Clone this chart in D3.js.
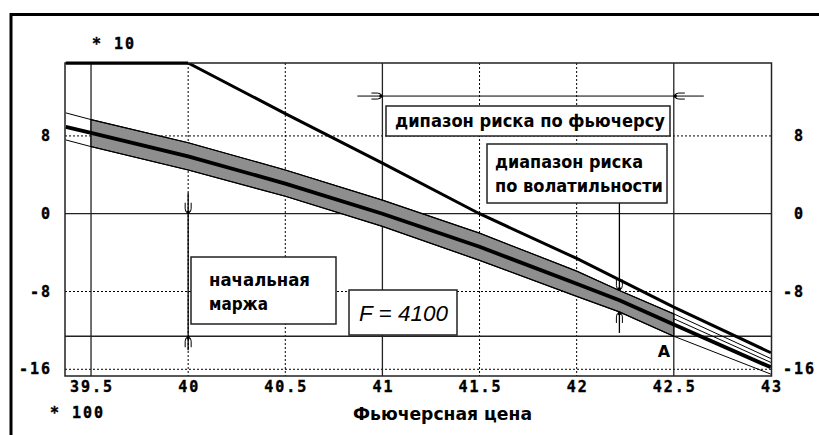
<!DOCTYPE html>
<html>
<head>
<meta charset="utf-8">
<script src="https://cdn.jsdelivr.net/npm/d3@7/dist/d3.min.js"></script>
<style>
  html, body { margin: 0; padding: 0; background: #fff; }
  svg { display: block; }
  .tick-label { font-family: "DejaVu Sans Mono", monospace; font-weight: bold; font-size: 15px; letter-spacing: 2px; fill: #000; stroke: #000; stroke-width: 0.4px; }
  .box-label { font-family: "DejaVu Sans", sans-serif; font-weight: bold; font-size: 17px; fill: #000; }
</style>
</head>
<body>
<svg id="chart" width="819" height="435"></svg>
<script>
// ---- data -------------------------------------------------------------
// futures price, in hundreds
const xTicks = [39.5, 40, 40.5, 41, 41.5, 42, 42.5, 43];
const xTickLabels = ["39.5", "40", "40.5", "41", "41.5", "42", "42.5", "43"];
const xSolidGrid = [39.5, 41, 42.5];
const xDottedGrid = [40, 40.5, 41.5, 42];
// profit, in tens
const yTicks = [8, 0, -8, -16];
const yTickLabels = ["8", "0", "-8", "-16"];
const ySolidGrid = [0];
const yDottedGrid = [8, -8, -16];

// position value at expiration
const payoffPrice = [39.37, 40, 40.5, 41, 41.5, 42, 42.5, 43];
const payoffValue = [15.5, 15.5, 10.3, 5.2, 0, -4.6, -9.6, -14.3];

// current position value and its volatility range
const curvePrice = [39.37, 39.5, 40, 40.5, 41, 41.5, 42, 42.22, 42.5, 43];
const curveMid   = [8.93, 8.31, 5.9, 3.1, 0, -3.4, -7.2, -8.9, -11.4, -15.8];
const curveUpper = [10.37, 9.68, 7.3, 4.5, 1.4, -2.0, -5.9, -7.9, -10.3, -14.9];
const curveLower = [7.59, 6.9, 4.5, 1.8, -1.3, -4.8, -8.5, -10.1, -12.6, -16.5];
const shadeFrom = 39.5, shadeTo = 42.5;
const tailPrice = [42.5, 43];
const tailValue = [-10.8, -15.3];

// initial margin and risk ranges
const marginLevel = -12.6;
const marginPrice = 40;
const futuresRange = [41, 42.5];
const futuresRangeLevel = 12.1;
const volPrice = 42.22;
const volRange = [-7.9, -10.1];
const pointA = {price: 42.5, value: -12.6, label: "A"};

// ---- layout -----------------------------------------------------------
const svg = d3.select("#chart");
const plot = {left: 65, top: 63, right: 771.5, bottom: 376};
const x = d3.scaleLinear().domain([39.366, 43.003]).range([plot.left, plot.right]);
const y = d3.scaleLinear().domain([-16.69, 15.5]).range([plot.bottom, plot.top]);

const defs = svg.append("defs");
defs.append("clipPath").attr("id", "plotClip").append("rect")
  .attr("x", plot.left).attr("y", plot.top)
  .attr("width", plot.right - plot.left).attr("height", plot.bottom - plot.top);

// outer frame
svg.append("path").attr("d", "M11,435 V14.5 H819")
  .attr("fill", "none").attr("stroke", "#000").attr("stroke-width", 3);

// grid
const grid = svg.append("g");
grid.selectAll(".xd").data(xDottedGrid).join("line")
  .attr("x1", d => x(d)).attr("x2", d => x(d)).attr("y1", plot.top).attr("y2", plot.bottom)
  .attr("stroke", "#000").attr("stroke-width", 1).attr("stroke-dasharray", "2,2");
grid.selectAll(".yd").data(yDottedGrid).join("line")
  .attr("y1", d => y(d)).attr("y2", d => y(d)).attr("x1", plot.left).attr("x2", plot.right)
  .attr("stroke", "#000").attr("stroke-width", 1).attr("stroke-dasharray", "2,2");
grid.selectAll(".xs").data(xSolidGrid).join("line")
  .attr("x1", d => x(d)).attr("x2", d => x(d)).attr("y1", plot.top).attr("y2", plot.bottom)
  .attr("stroke", "#222").attr("stroke-width", 1.3);
grid.selectAll(".ys").data(ySolidGrid.concat([marginLevel])).join("line")
  .attr("y1", d => y(d)).attr("y2", d => y(d)).attr("x1", plot.left).attr("x2", plot.right)
  .attr("stroke", "#222").attr("stroke-width", 1.3);

// curves
const pts = (xs, ys) => xs.map((p, i) => [p, ys[i]]);
const line = d3.line().x(d => x(d[0])).y(d => y(d[1]));
const curves = svg.append("g").attr("clip-path", "url(#plotClip)");

// shaded volatility band
const shadeIdx = curvePrice.map((p, i) => i).filter(i => curvePrice[i] >= shadeFrom && curvePrice[i] <= shadeTo);
const area = d3.area().x(d => x(d.p)).y0(d => y(d.lo)).y1(d => y(d.hi));
curves.append("path")
  .datum(shadeIdx.map(i => ({p: curvePrice[i], lo: curveLower[i], hi: curveUpper[i]})))
  .attr("d", area).attr("fill", "#8e8e8e").attr("stroke", "#000").attr("stroke-width", 1.2);

curves.append("path").datum(pts(curvePrice, curveUpper)).attr("d", line)
  .attr("fill", "none").attr("stroke", "#000").attr("stroke-width", 1);
curves.append("path").datum(pts(curvePrice, curveLower)).attr("d", line)
  .attr("fill", "none").attr("stroke", "#000").attr("stroke-width", 1);
curves.append("path").datum(pts(tailPrice, tailValue)).attr("d", line)
  .attr("fill", "none").attr("stroke", "#000").attr("stroke-width", 1);
curves.append("path").datum(pts(curvePrice, curveMid)).attr("d", line)
  .attr("fill", "none").attr("stroke", "#000").attr("stroke-width", 3.8);
curves.append("path").datum(pts(payoffPrice, payoffValue)).attr("d", line)
  .attr("fill", "none").attr("stroke", "#000").attr("stroke-width", 3);

// plot frame
svg.append("rect").attr("x", plot.left).attr("y", plot.top)
  .attr("width", plot.right - plot.left).attr("height", plot.bottom - plot.top)
  .attr("fill", "none").attr("stroke", "#222").attr("stroke-width", 1.5);
// flat part of the payoff sits on the top edge
svg.append("path").datum(pts(payoffPrice.slice(0, 2), payoffValue.slice(0, 2))).attr("d", line)
  .attr("stroke", "#000").attr("stroke-width", 3);

// arrowhead: tip at (tx,ty), pointing in direction angle (deg)
function arrowHead(g, tx, ty, angle) {
  const a = g.append("g").attr("transform", `translate(${tx},${ty}) rotate(${angle})`);
  a.append("path").attr("d", "M-11,-3 H-5 Q-1,-3 -1,0 Q-1,3 -5,3 H-11")
    .attr("fill", "none").attr("stroke", "#000").attr("stroke-width", 1);
  a.append("rect").attr("x", -3).attr("y", -1.5).attr("width", 3).attr("height", 3).attr("fill", "#000");
}
const ann = svg.append("g");

// futures risk range
ann.append("line")
  .attr("x1", x(futuresRange[0]) - 25).attr("x2", x(futuresRange[1]) + 30)
  .attr("y1", y(futuresRangeLevel)).attr("y2", y(futuresRangeLevel))
  .attr("stroke", "#000").attr("stroke-width", 1);
arrowHead(ann, x(futuresRange[0]), y(futuresRangeLevel), 0);
arrowHead(ann, x(futuresRange[1]), y(futuresRangeLevel), 180);

// initial margin span at 40
ann.append("line").attr("x1", x(marginPrice)).attr("x2", x(marginPrice))
  .attr("y1", y(0) - 21).attr("y2", y(marginLevel) + 14)
  .attr("stroke", "#000").attr("stroke-width", 1.3);
arrowHead(ann, x(marginPrice), y(0), 90);
arrowHead(ann, x(marginPrice), y(marginLevel), -90);

// volatility span
ann.append("line").attr("x1", x(volPrice)).attr("x2", x(volPrice))
  .attr("y1", 203).attr("y2", y(volRange[0]))
  .attr("stroke", "#000").attr("stroke-width", 1.3);
ann.append("line").attr("x1", x(volPrice)).attr("x2", x(volPrice))
  .attr("y1", y(volRange[1])).attr("y2", y(volRange[1]) + 21)
  .attr("stroke", "#000").attr("stroke-width", 1.3);
arrowHead(ann, x(volPrice), y(volRange[0]), 90);
arrowHead(ann, x(volPrice), y(volRange[1]), -90);

// label boxes
function labelBox(bx, by, bw, bh, lines, cls, extra) {
  const g = svg.append("g");
  g.append("rect").attr("x", bx).attr("y", by).attr("width", bw).attr("height", bh)
    .attr("fill", "#fff").attr("stroke", "#222").attr("stroke-width", 1.5);
  lines.forEach(l => {
    const t = g.append("text").attr("class", cls).attr("x", l.x).attr("y", l.y).text(l.text);
    if (l.len) t.attr("textLength", l.len).attr("lengthAdjust", "spacingAndGlyphs");
    if (extra) extra(t);
  });
}
labelBox(386, 106, 284, 30, [{x: 395, y: 127, text: "дипазон риска по фьючерсу", len: 270}], "box-label");
labelBox(487, 144, 180, 59, [
  {x: 495, y: 168, text: "диапазон риска", len: 148},
  {x: 495, y: 192, text: "по волатильности", len: 168}], "box-label");
labelBox(191, 257, 145, 67, [
  {x: 209, y: 286, text: "начальная", len: 101},
  {x: 209, y: 310, text: "маржа", len: 59}], "box-label");
labelBox(349, 290, 108, 45, [{x: 359, y: 321, text: "F = 4100", len: 89}], "f-label", t =>
  t.attr("font-family", "'Liberation Sans', Arial, sans-serif").attr("font-style", "italic")
   .attr("font-size", 22).attr("fill", "#000"));

// point A
svg.append("text").attr("x", x(pointA.price) - 16).attr("y", y(pointA.value) + 21)
  .attr("font-family", "'DejaVu Sans', sans-serif").attr("font-weight", "bold")
  .attr("font-size", 16).text(pointA.label);

// tick labels
svg.selectAll(".xl").data(xTicks).join("text").attr("class", "tick-label")
  .attr("x", d => x(d) + 1).attr("y", 392).attr("text-anchor", "middle")
  .text((d, i) => xTickLabels[i]);
svg.selectAll(".yl").data(yTicks).join("text").attr("class", "tick-label")
  .attr("x", 52).attr("y", d => y(d) + 5).attr("text-anchor", "end")
  .text((d, i) => yTickLabels[i]);
svg.selectAll(".yr").data(yTicks).join("text").attr("class", "tick-label")
  .attr("x", d => d < 0 ? 783 : 794).attr("y", d => y(d) + 5)
  .text((d, i) => yTickLabels[i]);

// axis scale notes and title
svg.append("text").attr("class", "tick-label").attr("x", 92).attr("y", 49).text("* 10");
svg.append("text").attr("class", "tick-label").attr("x", 50).attr("y", 418).text("* 100");
svg.append("text").attr("x", 353).attr("y", 420)
  .attr("font-family", "'DejaVu Sans', sans-serif").attr("font-weight", "bold").attr("font-size", 17)
  .attr("textLength", 179).attr("lengthAdjust", "spacingAndGlyphs")
  .text("Фьючерсная цена");
</script>
</body>
</html>
